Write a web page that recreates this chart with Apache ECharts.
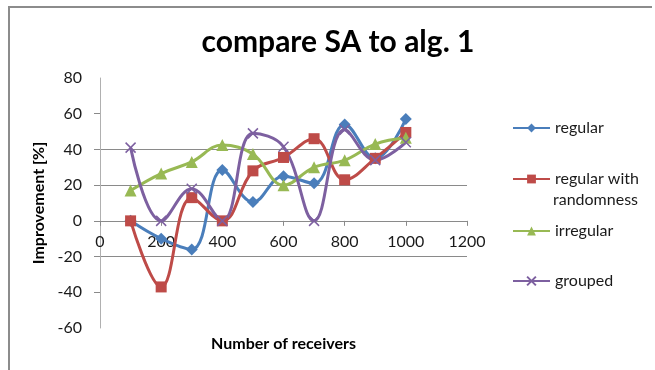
<!DOCTYPE html>
<html>
<head>
<meta charset="utf-8">
<script src="https://cdn.jsdelivr.net/npm/echarts@6/dist/echarts.min.js"></script>
<style>
  html, body { margin: 0; padding: 0; background: #fff; }
  #chart { width: 655px; height: 370px; }
</style>
</head>
<body>
<div id="chart"></div>
<script>
// Number of receivers (x values)
const receivers = [100, 200, 300, 400, 500, 600, 700, 800, 900, 1000];

// Improvement [%] per layout
const regular = [0, -10, -16, 28.5, 10.5, 25, 21, 54, 35, 57];
const regularRandom = [0, -37, 13, 0, 28, 35.5, 46, 23, 35, 49.5];
const irregular = [17, 26.5, 33, 42.5, 37.5, 20, 30, 34, 43, 46.5];
const grouped = [41, 0, 18, 0, 49, 41.5, 0, 51, 34, 44];

const seriesNames = ['regular', 'regular with randomness', 'irregular', 'grouped'];
const yTicks = [60, 40, 20, 0, -20, -40];

const FONT = 'Lato, "Open Sans", sans-serif';
const GRID_GRAY = '#8a8a8a';
const TEXT = '#1a1a1a';

// plot box
const GRID = { left: 100, right: 188, top: 78, bottom: 42 };
const Y_MIN = -60, Y_MAX = 80;
const plotH = 370 - GRID.top - GRID.bottom;
// the x axis crosses the y axis at 0
const xAxisLift = -plotH * (0 - Y_MIN) / (Y_MAX - Y_MIN);

function pairs(values) {
  return receivers.map((x, i) => [x, values[i]]);
}

function lineSeries(name, values, color, symbol, size, extraItem) {
  return {
    name: name,
    type: 'line',
    data: pairs(values),
    smooth: 0.4,
    symbol: symbol,
    symbolSize: size,
    color: color,
    lineStyle: { width: 3, color: color },
    itemStyle: Object.assign({ color: color }, extraItem || {}),
    z: 3
  };
}

function legendAt(name, top, label) {
  return {
    data: [name],
    left: 512,
    top: top,
    padding: 0,
    itemWidth: 37,
    itemHeight: 11,
    itemGap: 4,
    selectedMode: false,
    formatter: () => label,
    textStyle: { fontFamily: FONT, fontSize: 16, color: TEXT, padding: [0, 0, 0, 0] }
  };
}

const chart = echarts.init(document.getElementById('chart'), null, { renderer: 'canvas' });

chart.setOption({
  animation: false,
  backgroundColor: '#fff',
  title: {
    text: 'compare SA to alg. 1',
    left: 333,
    textAlign: 'center',
    top: 22,
    textStyle: { fontFamily: FONT, fontSize: 30, fontWeight: 'bold', color: '#000' }
  },
  legend: [
    legendAt(seriesNames[0], 120, 'regular'),
    legendAt(seriesNames[1], 171, 'regular with'),
    legendAt(seriesNames[2], 223, 'irregular'),
    legendAt(seriesNames[3], 273, 'grouped')
  ],
  grid: Object.assign({ containLabel: false, outerBoundsMode: 'none' }, GRID),
  xAxis: {
    type: 'value',
    min: 0,
    max: 1200,
    interval: 200,
    offset: xAxisLift,
    name: 'Number of receivers',
    nameLocation: 'middle',
    nameGap: 115,
    nameTextStyle: { fontFamily: FONT, fontSize: 16, fontWeight: 'bold', color: '#000' },
    axisLine: { onZero: false, lineStyle: { color: GRID_GRAY, width: 1 } },
    axisTick: { show: true, length: 5, lineStyle: { color: GRID_GRAY } },
    axisLabel: { fontFamily: FONT, fontSize: 16, color: TEXT, margin: 13, formatter: v => String(v) },
    splitLine: { show: false }
  },
  yAxis: {
    type: 'value',
    min: Y_MIN,
    max: Y_MAX,
    interval: 20,
    name: 'Improvement [%]',
    nameLocation: 'middle',
    nameRotate: 90,
    nameGap: 49,
    nameTextStyle: { fontFamily: FONT, fontSize: 16, fontWeight: 'bold', color: '#000' },
    axisLine: { show: true, lineStyle: { color: '#b0b0b0', width: 1 } },
    axisTick: { show: true, length: 6, customValues: yTicks, lineStyle: { color: GRID_GRAY } },
    axisLabel: { fontFamily: FONT, fontSize: 16, color: TEXT, margin: 18, formatter: v => String(v) },
    splitLine: {
      show: true,
      showMinLine: false,
      showMaxLine: false,
      lineStyle: { color: GRID_GRAY, width: 1 }
    }
  },
  graphic: [
    {
      type: 'polyline',
      shape: { points: [[9, 370], [9, 7], [652, 7]] },
      style: { stroke: '#8c8c8c', lineWidth: 2, fill: null },
      silent: true
    },
    {
      type: 'text',
      left: 553,
      top: 192,
      style: { text: 'randomness', font: '16px ' + FONT, fill: TEXT },
      silent: true
    }
  ],
  series: [
    lineSeries(seriesNames[0], regular, '#4A7EBB', 'diamond', 12),
    lineSeries(seriesNames[1], regularRandom, '#BE4B48', 'rect', 11),
    lineSeries(seriesNames[2], irregular, '#98B954', 'triangle', 12),
    lineSeries(seriesNames[3], grouped, '#7D60A0', 'path://M0,0L10,10M10,0L0,10', 10,
      { borderColor: '#7D60A0', borderWidth: 1.5 })
  ]
});
</script>
</body>
</html>
